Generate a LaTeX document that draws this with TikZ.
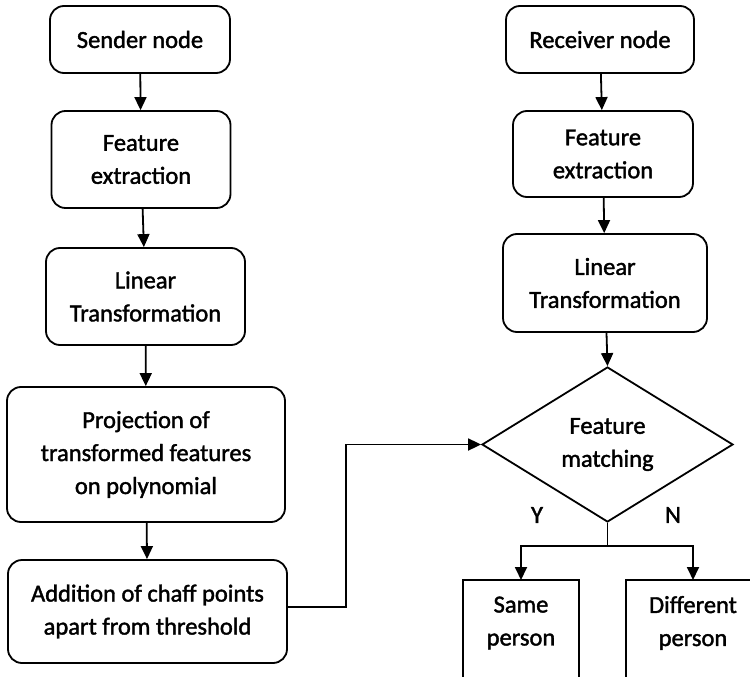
\documentclass[tikz,border=0pt]{standalone}
\usepackage{fontspec}
\setmainfont{Carlito}[RawFeature={embolden=1.6}]
\usetikzlibrary{shapes.geometric,arrows.meta,calc}
\begin{document}
\begin{tikzpicture}[x=1pt,y=-1pt,line width=1.8pt,
  font=\fontsize{24.5}{33}\selectfont,
  proc/.style={draw, rounded corners=14pt, align=center, inner sep=0pt},
  decision/.style={draw, diamond, align=center, inner sep=0pt,
    minimum width=251pt, minimum height=155pt},
  outcome/.style={align=center, inner sep=0pt},
  flow/.style={-{Triangle[length=13pt,width=12pt]}},
  lbl/.style={inner sep=0pt}]
\useasboundingbox (0,0) rectangle (750,677);
\clip (0,0) rectangle (750,677);

% sender side
\node[proc, minimum width=180pt, minimum height=67pt]  (s1) at (140,39.5)    {Sender node};
\node[proc, minimum width=179pt, minimum height=97pt]  (s2) at (141,159.5)   {Feature\\extraction};
\node[proc, minimum width=199pt, minimum height=97pt]  (s3) at (145.5,296.5) {Linear\\Transformation};
\node[proc, minimum width=278pt, minimum height=135pt] (s4) at (146,454.5)   {Projection of\\transformed features\\on polynomial};
\node[proc, minimum width=279pt, minimum height=103pt] (s5) at (147.5,611.5) {Addition of chaff points\\apart from threshold};

% receiver side
\node[proc, minimum width=188pt, minimum height=67pt]  (r1) at (600,39.5) {Receiver node};
\node[proc, minimum width=180pt, minimum height=86pt]  (r2) at (603,154)  {Feature\\extraction};
\node[proc, minimum width=204pt, minimum height=98pt]  (r3) at (605,283)  {Linear\\Transformation};
\node[decision] (d) at (607.5,444.5) {Feature\\matching};

% outcomes (open boxes running past the lower edge)
\node[outcome] (same) at (521,623) {Same\\person};
\node[outcome] (diff) at (693,623) {Different\\person};
\coordinate (sametop) at ($(same.center)+(0,-43)$);
\coordinate (difftop) at ($(diff.center)+(0,-43)$);
\draw (same.center) ++(-58,70) -- ++(0,-113) -- ++(116,0) -- ++(0,113);
\draw (diff.center) ++(-67,70) -- ++(0,-113) -- ++(134,0) -- ++(0,113);

\node[lbl] (yes) at (537,515) {Y};
\node[lbl] (no)  at (673,515) {N};

% connectors
\draw[flow] (s1) -- (s2);
\draw[flow] (s2) -- (s3);
\draw[flow] (s3) -- (s4);
\draw[flow] (s4) -- (s5);
\draw[flow] ([yshift=4.5pt]s5.east) -- ++(58,0) |- (d.west);

\draw[flow] (r1) -- (r2);
\draw[flow] (r2) -- (r3);
\draw[flow] (r3) -- (d.north);

\draw (d.south) -- ++(0,23) coordinate (split);
\draw[flow] (split) -| (sametop);
\draw[flow] (split) -| (difftop);
\end{tikzpicture}
\end{document}
